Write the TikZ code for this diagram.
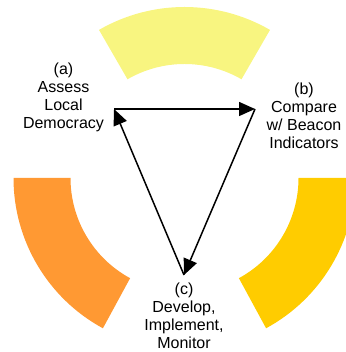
\documentclass[tikz,border=0pt]{standalone}
\usepackage{fontspec}
\setmainfont{Liberation Sans}
\usetikzlibrary{arrows.meta,calc}
\definecolor{paleyellow}{RGB}{248,245,128}
\definecolor{deeporange}{RGB}{255,153,51}
\definecolor{goldyellow}{RGB}{255,204,0}
\tikzset{
  label text/.style={align=center, inner sep=0pt, text=black,
    font=\fontsize{16pt}{18pt}\selectfont},
  cycle arrow/.style={draw=black, line width=1.5pt,
    -{Triangle[length=16pt,width=14pt]}}
}
% ring segment: #1 colour, #2 start angle, #3 end angle
\newcommand{\ringpart}[3]{%
  \fill[#1] ([shift={(#2:171pt)}]O) arc[start angle=#2, end angle=#3, radius=171pt]
    -- ([shift={(#3:114pt)}]O) arc[start angle=#3, end angle=#2, radius=114pt] -- cycle;}
\begin{document}
\begin{tikzpicture}[x=1pt,y=1pt]
  \useasboundingbox (0,0) rectangle (345,352);
  \coordinate (O) at (184.5,174);

  % three coloured segments of the ring
  \ringpart{paleyellow}{60}{120}
  \ringpart{deeporange}{180}{241.5}
  \ringpart{goldyellow}{-61.5}{0}

  % corners of the cycle
  \coordinate (A) at (114,243);
  \coordinate (B) at (255,243);
  \coordinate (C) at (184,77);

  \draw[cycle arrow] (A) -- (B);
  \draw[cycle arrow] (B) -- (C);
  \draw[cycle arrow] (C) -- (A);

  % step labels
  \node[label text] (la) at (63.5,254.5) {(a)\\Assess\\Local\\Democracy};
  \node[label text] (lb) at (304,236.5) {(b)\\Compare\\w/ Beacon\\Indicators};
  \node[label text] (lc) at (184,36.5) {(c)\\Develop,\\Implement,\\Monitor};
\end{tikzpicture}
\end{document}
